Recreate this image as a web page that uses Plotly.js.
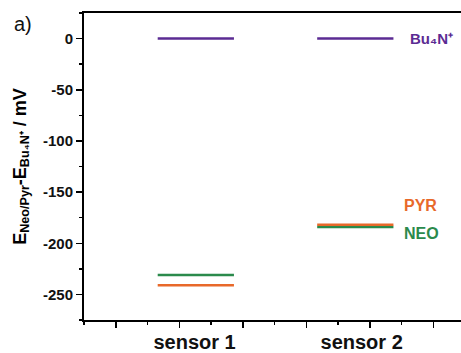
<!DOCTYPE html>
<html>
<head>
<meta charset="utf-8">
<script src="https://cdn.plot.ly/plotly-3.0.1.min.js"></script>
<style>
html,body{margin:0;padding:0;overflow:hidden;background:#fff;}
#chart{width:497px;height:353px;}
</style>
</head>
<body>
<div id="chart"></div>
<script>
// ---- data ----
const categories = ['sensor 1', 'sensor 2'];
const seriesNames = ['Bu₄N⁺', 'PYR', 'NEO'];
const bu4n = [0, 0];
const pyr = [-241, -182];
const neo = [-231, -184];
const yTickVals = [0, -50, -100, -150, -200, -250];
const yTickText = ['0', '-50', '-100', '-150', '-200', '-250'];

// ---- layout helpers (positions / styles) ----
const catCenters = [2.26, 4.77];
const catLabelPos = [2.24, 4.87];
const halfWidth = 0.6;
const colors = {bu4n: '#5b2b93', pyr: '#e8692a', neo: '#2b8a4c'};
const FONT = 'Liberation Sans, Arial, sans-serif';

function levelTrace(values, name, color) {
  const x = [], y = [];
  values.forEach((v, i) => {
    x.push(catCenters[i] - halfWidth, catCenters[i] + halfWidth, null);
    y.push(v, v, null);
  });
  return {type: 'scatter', mode: 'lines', x: x, y: y, name: name,
          line: {color: color, width: 2.5}, hoverinfo: 'skip', connectgaps: false};
}

const traces = [
  levelTrace(bu4n, seriesNames[0], colors.bu4n),
  levelTrace(neo, seriesNames[2], colors.neo),
  levelTrace(pyr, seriesNames[1], colors.pyr),
  {type: 'scatter', mode: 'markers', x: [catCenters[0]], y: [bu4n[0]], xaxis: 'x2',
   marker: {opacity: 0}, showlegend: false, hoverinfo: 'skip'}
];

const layout = {
  width: 497, height: 353,
  margin: {l: 84, r: 0, t: 13, b: 33},
  paper_bgcolor: '#fff', plot_bgcolor: '#fff',
  showlegend: false,
  font: {family: FONT, color: '#000'},
  xaxis: {
    range: [0.5, 7], showgrid: false, zeroline: false,
    showline: true, linecolor: '#000', linewidth: 2, mirror: true,
    ticks: 'outside', tick0: 1, dtick: 1, ticklen: 6, tickwidth: 1.5, tickcolor: '#000',
    showticklabels: false,
    minor: {ticks: 'outside', tick0: 0.5, dtick: 0.5, ticklen: 3, tickwidth: 1.5, tickcolor: '#000'}
  },
  xaxis2: {
    overlaying: 'x', anchor: 'y', side: 'bottom', range: [0.5, 7],
    showgrid: false, zeroline: false, showline: false,
    tickmode: 'array', tickvals: catLabelPos, ticktext: categories,
    ticks: 'outside', ticklen: 4, tickcolor: 'rgba(0,0,0,0)',
    tickfont: {family: FONT, size: 20, weight: 'bold', color: '#111'}
  },
  yaxis: {
    range: [-275, 25], showgrid: false, zeroline: false,
    showline: true, linecolor: '#000', linewidth: 2, mirror: true,
    ticks: 'outside', tickmode: 'array', tickvals: yTickVals, ticktext: yTickText,
    ticklen: 6, tickwidth: 1.5, tickcolor: '#000',
    tickfont: {family: FONT, size: 15, weight: 'bold', color: '#111'},
    minor: {ticks: 'outside', dtick: 25, tick0: 0, ticklen: 3, tickwidth: 1.5, tickcolor: '#000'},
    title: {text: 'E<sub>Neo/Pyr</sub>-E<sub>Bu₄N⁺</sub> / mV', standoff: 12,
            font: {family: FONT, size: 18, weight: 'bold', color: '#000'}}
  },
  annotations: [
    {xref: 'x', yref: 'y', x: 5.6, y: bu4n[1], text: seriesNames[0], showarrow: false,
     xanchor: 'left', yanchor: 'middle', font: {family: FONT, size: 15, weight: 'bold', color: colors.bu4n}},
    {xref: 'x', yref: 'y', x: 5.5, y: pyr[1] + 19, text: seriesNames[1], showarrow: false,
     xanchor: 'left', yanchor: 'middle', font: {family: FONT, size: 16, weight: 'bold', color: colors.pyr}},
    {xref: 'x', yref: 'y', x: 5.5, y: neo[1] - 6, text: seriesNames[2], showarrow: false,
     xanchor: 'left', yanchor: 'middle', font: {family: FONT, size: 16, weight: 'bold', color: colors.neo}},
    {xref: 'paper', yref: 'paper', x: -0.174, y: 0.964, text: 'a)', showarrow: false,
     xanchor: 'left', yanchor: 'middle', font: {family: FONT, size: 20, color: '#111'}}
  ]
};

Plotly.newPlot('chart', traces, layout, {staticPlot: true, displayModeBar: false});
</script>
</body>
</html>
